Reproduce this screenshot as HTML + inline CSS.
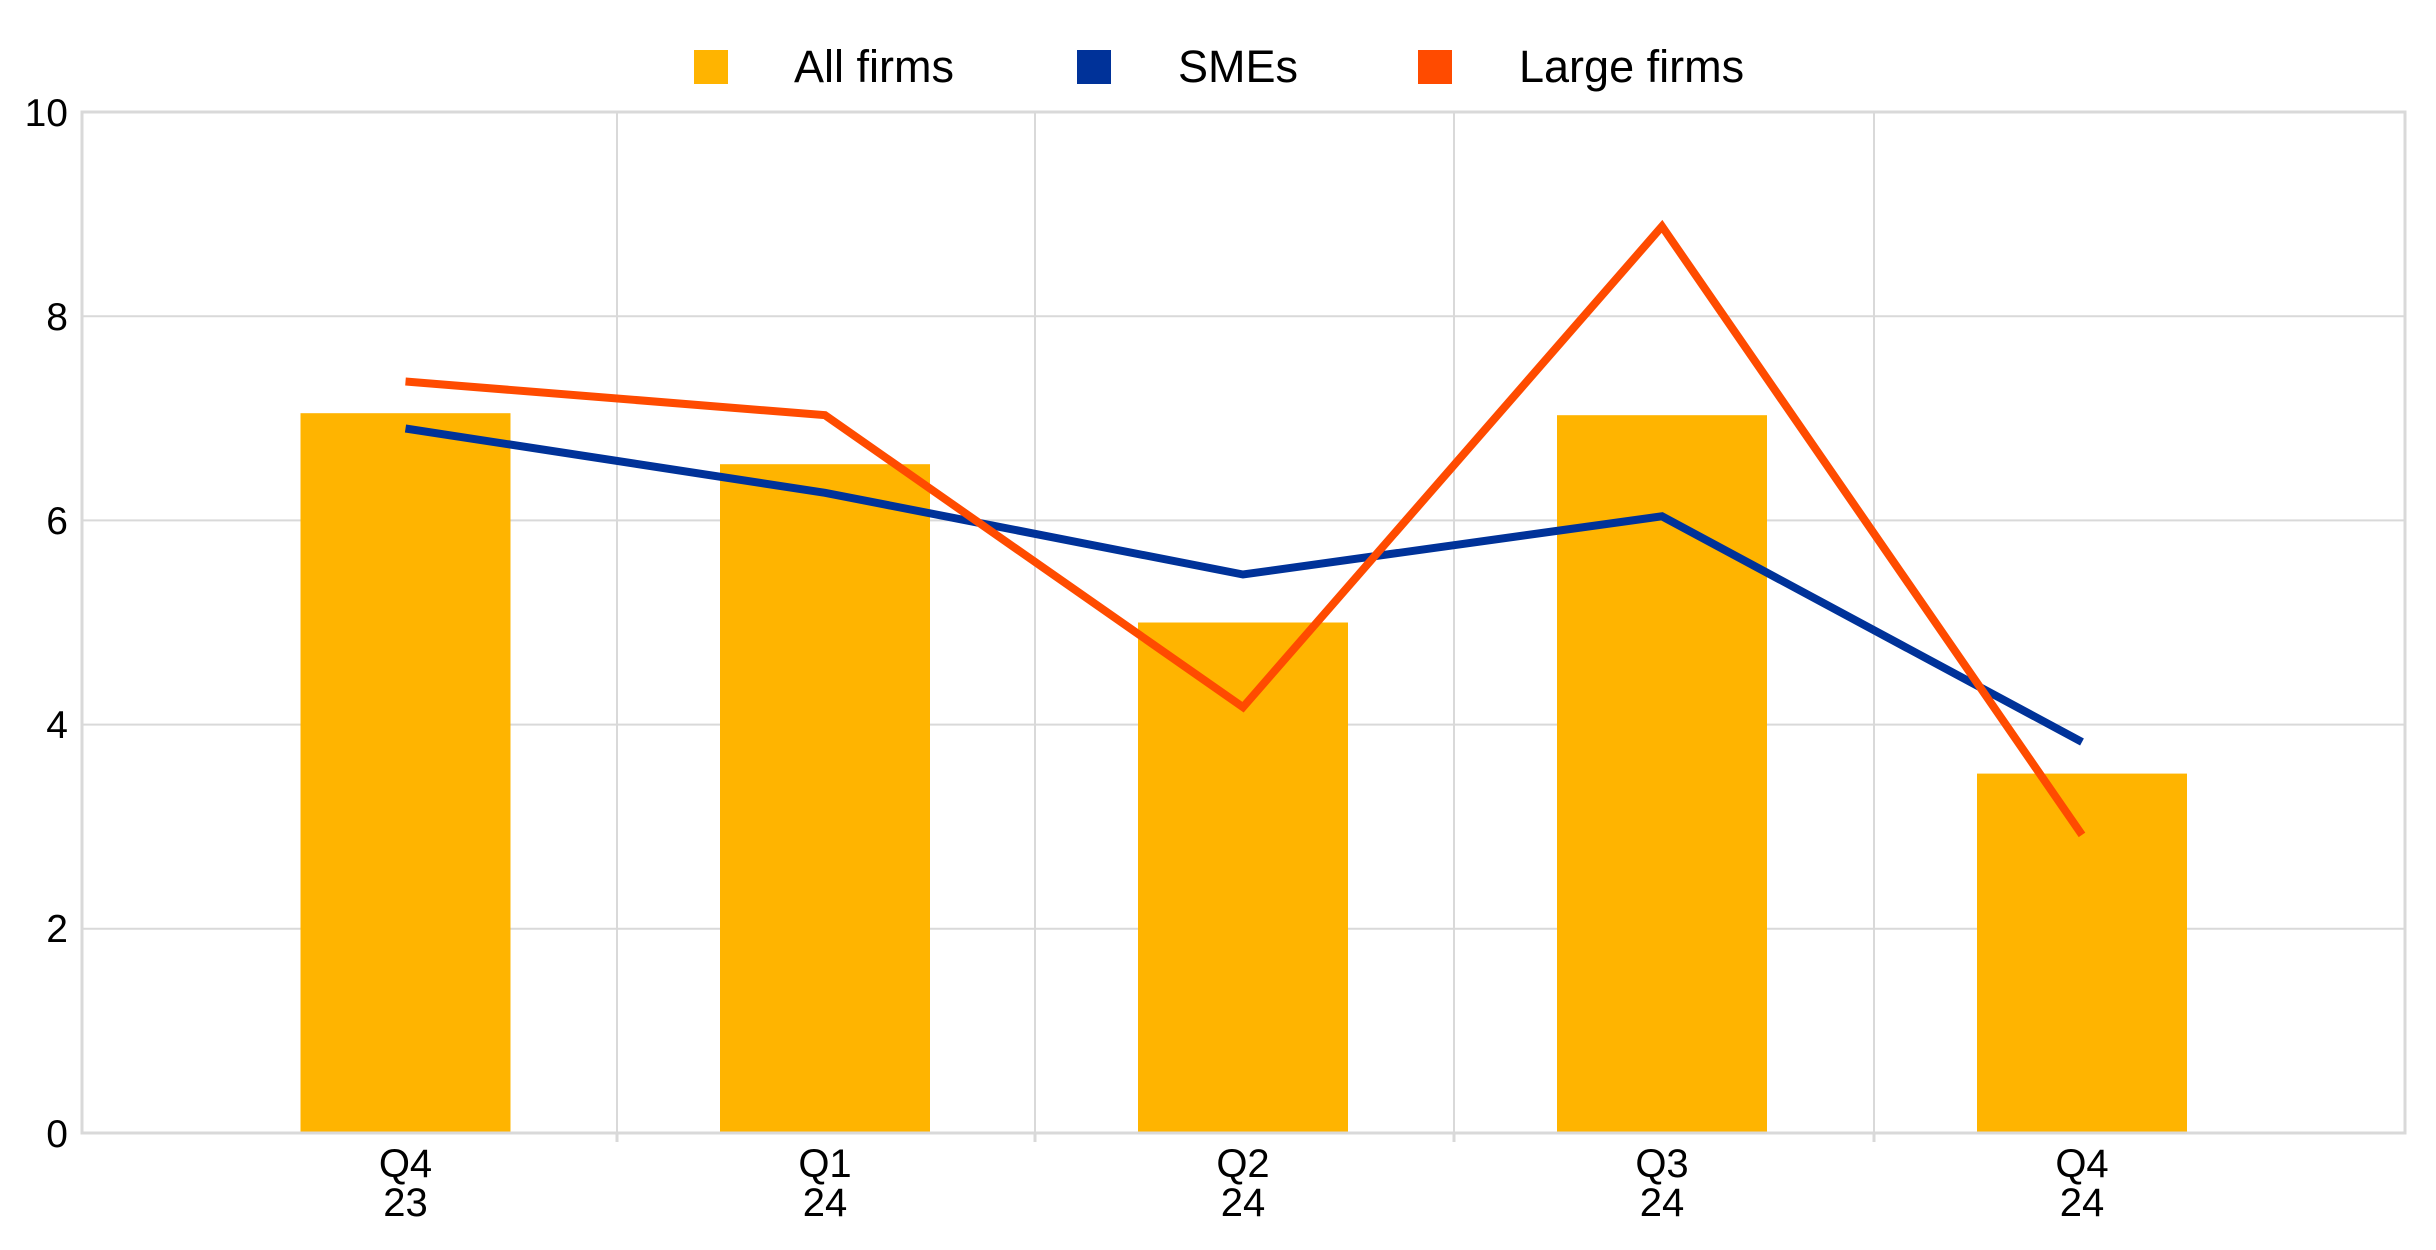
<!DOCTYPE html>
<html><head><meta charset="utf-8"><style>
html,body{margin:0;padding:0;background:#fff;}
svg{display:block;}
text{font-family:"Liberation Sans",sans-serif;fill:#000;}
</style></head><body>
<svg width="2436" height="1250" viewBox="0 0 2436 1250" xmlns="http://www.w3.org/2000/svg">
<g stroke="#d9d9d9" stroke-width="2">
<line x1="82" y1="316.2" x2="2405" y2="316.2"/>
<line x1="82" y1="520.4" x2="2405" y2="520.4"/>
<line x1="82" y1="724.6" x2="2405" y2="724.6"/>
<line x1="82" y1="928.8" x2="2405" y2="928.8"/>
<line x1="617" y1="112" x2="617" y2="1133"/>
<line x1="1035" y1="112" x2="1035" y2="1133"/>
<line x1="1454" y1="112" x2="1454" y2="1133"/>
<line x1="1874" y1="112" x2="1874" y2="1133"/>
</g>
<g fill="#FFB400">
<rect x="300.5" y="413.2" width="210" height="719.8"/>
<rect x="720" y="464.2" width="210" height="668.8"/>
<rect x="1138" y="622.5" width="210" height="510.5"/>
<rect x="1557" y="415.2" width="210" height="717.8"/>
<rect x="1977" y="773.6" width="210" height="359.4"/>
</g>
<g stroke="#d9d9d9" stroke-width="3" fill="none">
<rect x="82" y="112" width="2323" height="1021"/>
<line x1="617" y1="1133" x2="617" y2="1142"/>
<line x1="1035" y1="1133" x2="1035" y2="1142"/>
<line x1="1454" y1="1133" x2="1454" y2="1142"/>
<line x1="1874" y1="1133" x2="1874" y2="1142"/>
</g>
<polyline fill="none" stroke="#003299" stroke-width="8" points="405.5,428.5 825,492.8 1243,574.5 1662,516.3 2082,742"/>
<polyline fill="none" stroke="#FF4B00" stroke-width="8" points="405.5,381.5 825,415.2 1243,707.2 1662,226.4 2082,834.9"/>
<g font-size="39" text-anchor="end">
<text x="68" y="126">10</text>
<text x="68" y="330">8</text>
<text x="68" y="534">6</text>
<text x="68" y="738">4</text>
<text x="68" y="942">2</text>
<text x="68" y="1147">0</text>
</g>
<g font-size="40" text-anchor="middle">
<text x="405.5" y="1177">Q4</text><text x="405.5" y="1216">23</text>
<text x="825" y="1177">Q1</text><text x="825" y="1216">24</text>
<text x="1243" y="1177">Q2</text><text x="1243" y="1216">24</text>
<text x="1662" y="1177">Q3</text><text x="1662" y="1216">24</text>
<text x="2082" y="1177">Q4</text><text x="2082" y="1216">24</text>
</g>
<rect x="694" y="50" width="34" height="34" fill="#FFB400"/>
<rect x="1077" y="50" width="34" height="34" fill="#003299"/>
<rect x="1418" y="50" width="34" height="34" fill="#FF4B00"/>
<g font-size="45">
<text x="794" y="82">All firms</text>
<text x="1178" y="82">SMEs</text>
<text x="1519" y="82">Large firms</text>
</g>
</svg>
</body></html>
